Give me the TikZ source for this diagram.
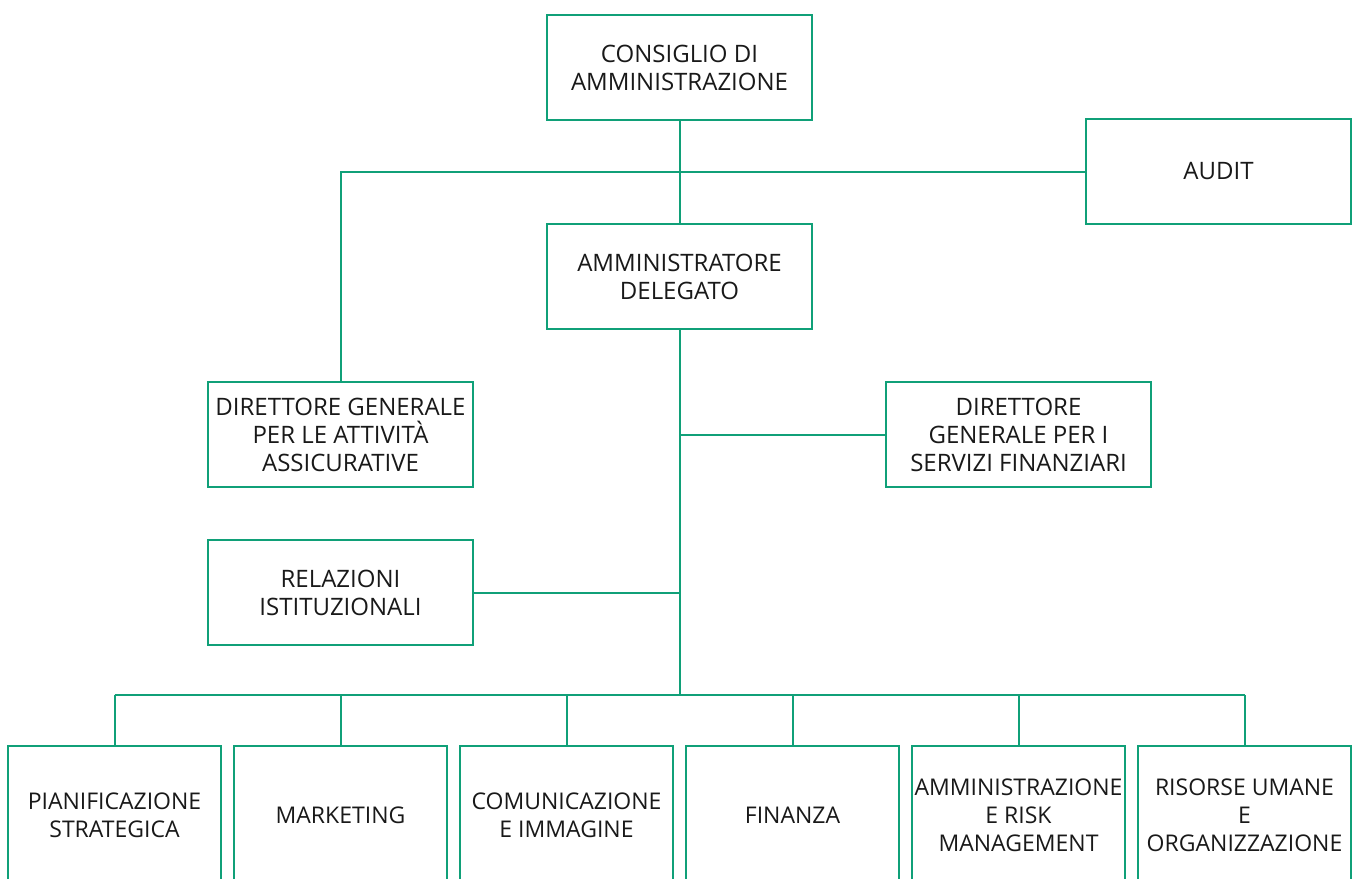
\documentclass[tikz,border=0pt]{standalone}
\usepackage{fontspec}
\setmainfont{Open Sans}
\definecolor{orggreen}{RGB}{16,160,120}
\definecolor{orgtext}{RGB}{25,25,25}
\begin{document}
\begin{tikzpicture}[x=1pt,y=-1pt,
  orgbox/.style={draw=orggreen, line width=2pt, fill=white, text=orgtext, align=center,
    minimum width=265pt, minimum height=105pt, inner sep=0pt,
    font=\fontsize{24}{28}\selectfont},
  lowbox/.style={orgbox, minimum width=213pt, minimum height=138pt,
    font=\fontsize{23}{28}\selectfont},
  link/.style={draw=orggreen, line width=2pt}]
\useasboundingbox (0,0) rectangle (1357,878);
\clip (0,0) rectangle (1357,878);
\fill[white] (0,0) rectangle (1357,878);

\node[orgbox] (cda) at (679.5,67.5) {CONSIGLIO DI\\AMMINISTRAZIONE};
\node[orgbox] (ad) at (679.5,276.5) {AMMINISTRATORE\\DELEGATO};
\node[orgbox] (audit) at (1218.5,171.5) {AUDIT};
\node[orgbox] (dgaa) at (340.5,434.5) {DIRETTORE GENERALE\\PER LE ATTIVITÀ\\ASSICURATIVE};
\node[orgbox] (dgsf) at (1018.5,434.5) {DIRETTORE\\GENERALE PER I\\SERVIZI FINANZIARI};
\node[orgbox] (rel) at (340.5,592.5) {RELAZIONI\\ISTITUZIONALI};

\node[lowbox] (b1) at (114.5,815) {PIANIFICAZIONE\\STRATEGICA};
\node[lowbox] (b2) at (340.5,815) {MARKETING};
\node[lowbox] (b3) at (566.5,815) {COMUNICAZIONE\\E IMMAGINE};
\node[lowbox] (b4) at (792.5,815) {FINANZA};
\node[lowbox] (b5) at (1018.5,815) {AMMINISTRAZIONE\\E RISK\\MANAGEMENT};
\node[lowbox] (b6) at (1244.5,815) {RISORSE UMANE\\E\\ORGANIZZAZIONE};

\coordinate (bus) at (679.5,695);

\draw[link] (cda.south) -- (ad.north);
\draw[link] (dgaa.north) |- (audit.west);
\draw[link] (ad.south) -- (bus);
\draw[link] (dgsf.west) -- (dgsf.west -| ad.south);
\draw[link] (rel.east) -- (rel.east -| ad.south);
\draw[link] (b1.north |- bus) -- (b6.north |- bus);
\foreach \b in {b1,b2,b3,b4,b5,b6}{
  \draw[link] (\b.north) -- (\b.north |- bus);
}
\end{tikzpicture}
\end{document}
